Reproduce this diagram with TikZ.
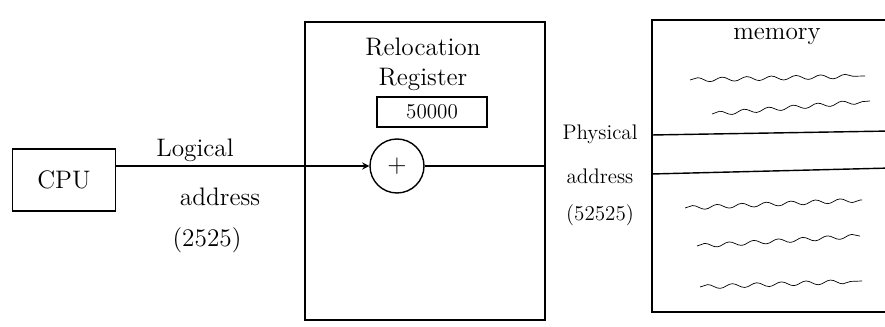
\documentclass[tikz,border=0pt]{standalone}
\usetikzlibrary{decorations.pathmorphing}
\begin{document}
\begin{tikzpicture}[>=stealth, x=0.02cm, y=-0.02cm, thick, font=\Large,
  box/.style={draw, inner sep=0pt},
  scribble/.style={thin, decorate, decoration={snake, segment length=14pt, amplitude=1.2pt}}]
\useasboundingbox (0,0) rectangle (885,327);
\clip (0,0) rectangle (885,327);
% CPU
\node[box, minimum width=2.06cm, minimum height=1.24cm] (cpu) at (64,180) {CPU};
% relocation unit
\node[box, minimum width=4.8cm, minimum height=5.96cm] (reloc) at (425,171) {};
\node (rtitle) at (423,47) {Relocation};
\node (rsub) at (423,79) {Register};
\node[box, minimum width=2.2cm, minimum height=0.6cm, font=\large] (reg) at (432,112) {50000};
\node[circle, draw, minimum size=1.08cm, inner sep=0pt] (plus) at (397,166) {$+$};
% memory
\node[box, minimum width=5.2cm, minimum height=5.84cm] (mem) at (782,166) {};
\node (mtitle) at (777,36) {memory};
\coordinate (p1) at (mem.west |- 0,135);
\coordinate (p2) at (mem.west |- 0,174);
\draw (p1)--++(240,-4);
\draw (p2)--++(240,-6);
\draw[scribble] (690,80)--(865,76);
\draw[scribble] (712,114)--(870,101);
\draw[scribble] (685,208)--(862,200);
\draw[scribble] (697,246)--(860,236);
\draw[scribble] (700,287)--(862,281);
% connectors
\draw[->] (cpu.east |- plus) -- (plus);
\draw (plus) -- (reloc.east |- plus);
\node (lg) at (195,150) {Logical};
\node (la) at (220,197) {address};
\node (lv) at (207,240) {(2525)};
\node[font=\large] (pp) at (600,134) {Physical};
\node[font=\large] (pa) at (600,176) {address};
\node[font=\large] (pv) at (600,215) {(52525)};
\end{tikzpicture}
\end{document}
